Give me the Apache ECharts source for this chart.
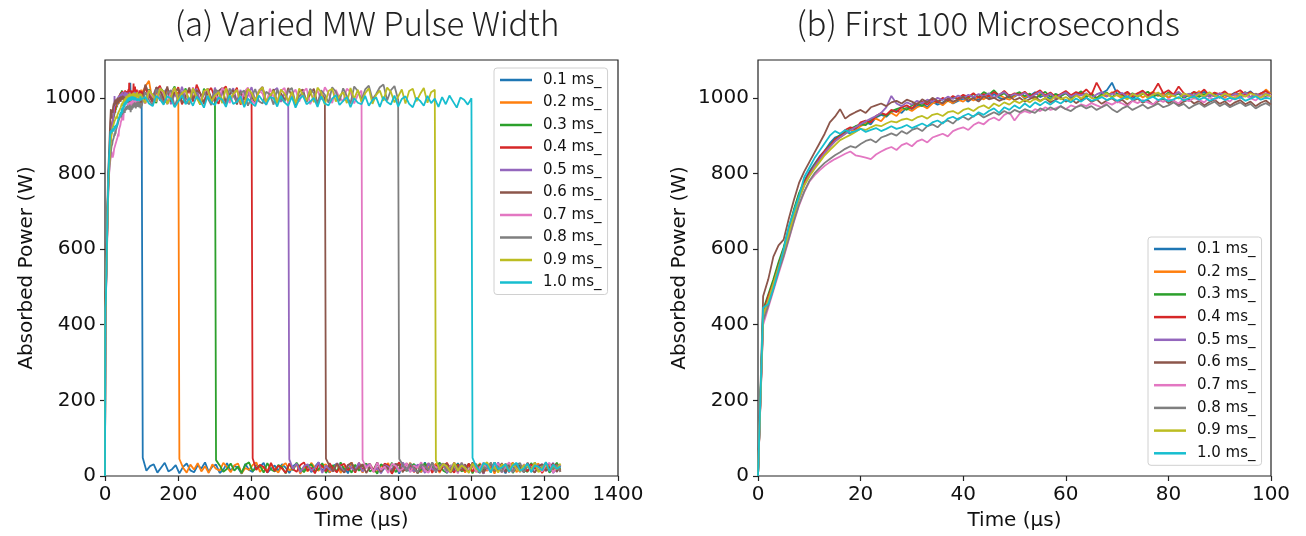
<!DOCTYPE html>
<html>
<head>
<meta charset="utf-8">
<script src="https://cdn.jsdelivr.net/npm/echarts@6/dist/echarts.min.js"></script>
<style>
html,body{margin:0;padding:0;background:#fff;}
#chart{width:1306px;height:536px;}
</style>
</head>
<body>
<div id="chart"></div>
<script>
// ---- categories ----
const seriesNames = ['0.1 ms_','0.2 ms_','0.3 ms_','0.4 ms_','0.5 ms_','0.6 ms_','0.7 ms_','0.8 ms_','0.9 ms_','1.0 ms_'];
const pulseEnd = [100,200,300,400,500,600,700,800,900,1000]; // µs
const colors = ['#1f77b4','#ff7f0e','#2ca02c','#d62728','#9467bd','#8c564b','#e377c2','#7f7f7f','#bcbd22','#17becf'];

// ---- tick labels ----
const yTicks = [0,200,400,600,800,1000];
const xTicksA = [0,200,400,600,800,1000,1200,1400];
const xTicksB = [0,20,40,60,80,100];

// ---- first 100 µs (1 µs steps, t = 0..100) ----
const rise01 = [0,425,470,515,560,600,650,700,745,780,805,
825,845,860,880,895,900,912,905,920,928,
935,930,948,955,950,962,968,960,975,970,
978,985,975,990,982,988,995,985,992,998,
990,1002,995,1005,998,1010,1000,996,1008,1003,
1012,998,1005,1015,1002,1008,995,1010,1004,1012,
1000,1008,1015,1003,1010,998,1012,1020,1040,1010,
1005,1012,998,1008,1015,1002,1010,1006,1014,1000,
1008,1015,1003,1011,998,1007,1016,1004,1010,1001,
1012,1006,1014,1000,1009,1017,1005,1011,1020,1008];
const rise02 = [0,410,455,500,545,590,640,690,735,770,795,
815,838,852,870,885,895,905,915,912,925,
932,940,945,938,955,960,952,968,972,965,
975,980,972,985,990,980,992,986,995,990,
1000,993,1003,996,1006,999,1008,1000,995,1005,
1010,1000,1007,995,1012,1003,1009,998,1006,1013,
1002,1010,996,1005,1012,1000,1008,1003,1015,1006,
999,1010,1004,1012,1001,1009,1016,1005,1011,1000,
1008,1014,1003,1010,1006,1018,1002,1009,1004,1012,
1000,1010,1005,1013,1007,1000,1011,1004,1022,1010];
const rise03 = [0,440,480,520,565,605,655,705,748,778,800,
822,840,858,875,890,902,908,918,925,930,
928,942,950,958,952,965,970,975,968,980,
985,978,990,995,988,998,992,1002,996,1005,
1000,1010,1003,1015,1008,1020,1005,1012,1000,1009,
1015,1004,1011,998,1007,1016,1002,1010,1005,1013,
1001,1009,1017,1003,1010,999,1008,1014,1002,1011,
1006,1000,1012,1004,1010,1016,1003,1009,1001,1014,
1006,1011,999,1008,1015,1002,1010,1005,1013,1000,
1009,1004,1012,1007,1015,1001,1010,1006,1003,1011];
const rise04 = [0,430,475,510,555,598,645,695,740,775,800,
820,842,860,872,890,898,915,922,918,935,
940,935,952,960,955,968,962,975,980,972,
985,990,982,995,988,1000,993,1005,998,1008,
1002,1012,1000,1010,1004,1015,1007,1018,1005,1012,
1008,1016,1003,1012,1020,1006,1014,1002,1010,1018,
1007,1015,1010,1022,1008,1040,1015,1005,1012,1020,
1008,1016,1004,1012,1019,1006,1015,1038,1012,1020,
1008,1030,1012,1005,1016,1010,1022,1006,1014,1009,
1017,1005,1013,1020,1008,1015,1004,1012,1018,1007];
const rise05 = [0,420,465,505,550,592,640,688,732,768,795,
818,836,855,870,885,896,905,915,922,930,
938,945,952,960,975,1005,985,978,988,982,
992,986,995,990,1000,994,1003,997,1006,999,
1008,1002,1010,1004,1012,1000,1009,1015,1003,1010,
1006,1013,1001,1009,1016,1004,1011,999,1008,1014,
1003,1010,1006,1012,1000,1009,1015,1004,1011,1007,
1013,1002,1010,1006,1014,1001,1009,1012,1004,1010,
1007,1015,1003,1011,1006,1013,1000,1009,1004,1012,
1008,1003,1011,1006,1014,1002,1010,1005,1012,1008];
const rise06 = [0,475,520,580,610,625,680,730,775,805,830,
855,880,905,935,950,970,945,955,962,968,
960,975,980,985,978,988,992,985,995,990,
982,996,988,1000,992,985,998,990,995,1002,
993,999,990,1004,996,1000,992,998,1005,994,
1000,990,997,1003,992,999,988,995,1001,990,
997,986,994,1000,989,996,984,993,999,988,
995,983,992,998,987,994,982,991,997,986,
993,981,990,996,985,992,980,989,995,984,
991,979,988,994,983,990,978,987,993,982];
const rise07 = [0,400,445,490,535,578,625,672,715,750,778,
795,808,820,830,838,845,852,858,848,845,
842,838,850,858,865,870,862,875,880,872,
885,890,882,895,900,905,898,912,918,922,
915,928,935,930,942,948,940,955,962,940,
958,965,960,970,965,975,968,972,978,970,
980,975,983,978,986,980,975,988,982,990,
985,978,992,986,994,988,982,995,989,997,
992,985,998,991,1000,994,988,1001,995,1003,
997,990,1004,998,1006,999,993,1005,1000,1008];
const rise08 = [0,410,450,495,540,582,628,675,718,752,780,
800,815,828,838,848,856,865,872,868,878,
886,890,882,895,900,906,900,912,905,915,
920,912,925,930,922,935,940,932,945,950,
942,952,958,948,955,962,955,965,958,968,
962,970,965,960,972,966,975,968,978,970,
965,975,980,972,978,968,975,982,970,962,
972,978,968,975,982,972,978,985,975,980,
988,978,984,972,980,986,976,983,990,978,
985,975,982,988,978,984,972,980,986,978];
const rise09 = [0,425,465,508,552,595,642,690,735,768,792,
812,830,848,862,875,888,895,902,910,918,
915,922,928,925,932,938,935,942,945,940,
948,952,945,955,958,952,962,965,958,968,
972,965,975,980,972,985,978,988,982,992,
986,995,988,998,990,1000,993,1005,996,1002,
994,1006,998,1010,1000,995,1005,1012,1000,1008,
1003,996,1010,1004,1012,1000,1008,1014,1002,1010,
1005,998,1012,1006,1000,1010,1004,1015,1006,1002,
1011,1005,998,1009,1003,1012,1006,1000,1010,1004];
const rise10 = [0,445,455,495,545,600,660,700,740,790,815,
840,860,880,900,912,905,915,908,912,918,
910,915,920,912,918,925,918,922,928,920,
926,932,925,935,940,932,945,950,942,952,
958,950,962,955,965,972,960,975,968,980,
972,985,975,988,980,990,982,992,985,995,
988,998,990,1000,992,996,1002,994,1000,992,
998,1004,995,1000,990,997,1003,994,999,991,
996,1002,993,999,1004,995,1001,992,998,1003,
994,1000,996,1002,992,998,1004,995,1000,997];

// ---- plateau (10 µs steps, t = 110 .. pulse end) ----
const plat01 = [];
const plat02 = [1030,1045,990,1012,1025,985,1020,998,1008,1015];
const plat03 = [990,1022,1005,986,1028,1016,984,1012,1030,992,1000,1025,988,1018,1006,982,1024,1010,994,1019];
const plat04 = [1025,1005,988,1020,1032,996,985,1018,1010,1028,983,1002,1022,990,1035,1012,987,1016,1026,999,
984,1021,1030,993,1008,1027,982,1014,1023,994];
const plat05 = [986,1018,1004,1026,992,1015,1024,983,1010,995,1029,1000,987,1017,1023,990,1008,1020,984,1027,
996,1016,985,1011,1025,991,1021,982,1006,1028,994,1014,1024,988,1003,1019,1026,989,1012,995];
const plat06 = [1035,1010,992,1028,1020,998,1030,990,1014,1024,986,1004,1027,994,1020,1012,983,1025,1000,991,
1018,1026,988,1008,1021,982,1016,995,1024,1006,985,1019,1029,990,1002,1023,987,1013,993,1026,
1004,981,1017,1022,989,1010,1024,984,1015,998];
const plat07 = [985,1020,1004,990,1026,1012,983,1017,1024,996,1008,1019,987,1028,1002,991,1015,1023,982,1010,
995,1025,1018,986,1006,1021,989,1016,1027,993,984,1020,1011,981,1024,1003,992,1018,1026,986,
1009,1022,990,1015,1025,983,1005,1019,995,1028,1012,986,1021,1000,991,1024,1015,985,1008,1019];
const plat08 = [1015,995,980,1022,1008,986,1012,1020,978,1003,1016,990,983,1024,1010,987,1014,1000,981,1021,
1017,992,984,1025,1006,988,1013,1019,979,1002,1023,991,985,1016,1009,982,1022,998,989,1018,
1026,986,1004,1015,990,1024,1012,983,1020,1008,987,1028,1016,991,1025,1005,985,1030,1018,995,
1022,1032,996,1010,1028,1035,993,1020,1031,995];
const plat09 = [986,1019,1008,991,1024,1016,984,1003,1027,993,1012,1020,988,1025,1000,982,1018,1023,990,1006,
1015,986,1026,994,1010,1021,987,983,1024,1013,992,1017,1028,989,1004,1019,985,1022,1011,991,
1016,984,1025,1007,993,1020,988,1027,1014,982,1018,1024,990,1005,1015,986,1026,997,1021,989,
1012,1025,984,1008,1019,992,1027,1016,988,1003,1022,985,1018,1024,991,1010,1026,987,1015,1021];
const plat10 = [1002,985,978,1005,996,982,1004,998,975,990,1006,983,1000,979,1003,992,974,1005,987,981,
1001,995,976,1007,984,989,1004,975,998,986,978,1006,993,982,1002,999,977,1005,988,979,
1003,974,996,1006,983,990,1000,976,1004,985,980,998,1007,981,992,1002,975,999,987,983,
1005,979,994,1001,976,1003,989,982,1006,977,997,1004,984,975,1000,992,979,1005,986,998,
976,1002,983,1006,990,974,1001,995,982,999];

// ---- after pulse end (10 µs steps, t = end+3 .. 1250) ----
const tail01 = [48,14,26,31,9,22,35,12,18,29,7,24,33,15,10,28,20,36,11,25,
30,8,17,34,13,27,21,6,32,16,11,29,24,35,9,19,28,14,31,22,
8,26,33,12,17,30,10,25,36,15,20,9,27,32,13,23,7,34,18,28,
11,31,24,14,35,9,21,29,16,26,6,33,19,12,30,25,10,36,17,22,
13,28,32,8,24,15,34,20,11,27,30,14,9,35,18,26,12,31,23,7,
29,16,33,21,10,27,15,36,19,12,25,32,8,22,28];
const tail02 = [45,22,9,30,17,34,12,26,8,31,19,14,35,23,10,28,33,7,21,16,
29,36,11,24,13,32,18,9,27,34,15,20,30,6,25,12,35,22,14,28,
31,10,19,33,8,26,17,36,13,23,9,29,32,16,11,27,21,34,7,24,
30,14,18,35,12,26,10,31,22,15,33,8,28,20,13,36,17,25,9,30,
24,11,34,19,14,29,6,32,21,16,27,35,10,23,18,31,12,26,33,9,
20,28,15,34,11];
const tail03 = [42,28,11,19,33,14,25,8,30,36,13,21,27,9,34,17,12,29,24,7,
32,15,35,20,10,26,31,13,18,34,8,23,28,11,36,16,22,9,30,14,
27,33,12,19,6,31,25,15,35,10,21,29,13,24,32,8,17,34,11,26,
20,36,14,9,28,23,31,12,18,33,7,25,30,15,22,10,35,19,27,13,
32,8,24,29,16,11,34,21,26,14,31,9,20,35,17];
const tail04 = [47,16,30,24,9,35,13,27,20,8,33,18,11,29,36,14,22,7,31,26,
12,34,19,10,28,32,15,23,9,35,17,25,30,11,21,13,33,28,6,24,
36,14,19,31,10,27,22,16,34,8,29,12,25,35,18,9,30,21,14,33,
11,27,24,7,32,17,36,13,20,28,10,34,23,15,29,12,31,19,26,8,
35,16,22,30,13];
const tail05 = [44,19,33,10,26,31,14,22,36,8,28,17,12,34,24,9,30,20,15,35,
11,27,32,13,21,7,29,25,16,33,10,36,19,23,12,30,26,8,34,18,
14,28,31,9,22,35,13,20,27,11,33,16,24,6,30,29,15,36,12,21,
25,10,32,18,14,34,23,9,28,31,13,19,35,11,26];
const tail06 = [46,26,12,33,18,9,29,35,14,22,31,8,24,17,36,11,27,20,13,32,
28,10,34,15,23,7,30,25,12,35,19,16,29,33,9,21,26,14,31,11,
36,18,24,8,28,32,13,20,34,10,27,15,30,22,12,35,17,9,25,31,
14,23,33,11,29];
const tail07 = [43,21,30,11,35,16,25,8,32,27,13,19,34,10,28,22,36,14,9,31,
24,17,33,12,26,29,7,35,20,15,30,11,23,34,18,13,28,32,9,25,
36,16,21,10,31,27,14,33,19,12,29,35,8,24,30];
const tail08 = [45,29,13,34,20,10,31,25,16,36,9,27,33,14,22,30,11,35,18,12,
28,32,8,24,19,36,15,26,10,33,21,13,30,34,9,27,17,31,12,25,
35,14,20,29,11];
const tail09 = [42,17,32,26,10,35,14,28,21,8,33,19,12,30,36,15,24,9,31,27,
13,34,20,11,29,25,16,36,10,22,32,14,28,18,33];
const tail10 = [48,25,12,34,29,9,36,18,22,31,11,27,35,14,20,33,10,28,24,15,
37,13,30,19,26];

const riseAll = [rise01,rise02,rise03,rise04,rise05,rise06,rise07,rise08,rise09,rise10];
const platAll = [plat01,plat02,plat03,plat04,plat05,plat06,plat07,plat08,plat09,plat10];
const tailAll = [tail01,tail02,tail03,tail04,tail05,tail06,tail07,tail08,tail09,tail10];

function fullTrace(k){
  const pts = riseAll[k].map((v,i)=>[i,v]);
  platAll[k].forEach((v,j)=>pts.push([110+10*j, v]));
  tailAll[k].forEach((v,j)=>pts.push([pulseEnd[k]+3+10*j, v]));
  return pts;
}
function firstTrace(k){ return riseAll[k].map((v,i)=>[i,v]); }

const FONT = 'DejaVu Sans';
const TXT = '#111';
const plain = v => String(v);

function xAxisCfg(gi, max, interval, ticks){
  return {
    type:'value', gridIndex:gi, min:0, max:max, interval:interval,
    name:'Time (μs)', nameLocation:'middle', nameGap:35,
    nameTextStyle:{fontFamily:FONT,fontSize:20,color:TXT},
    axisLine:{show:false},
    axisTick:{show:true,inside:false,length:5,lineStyle:{color:'#222',width:1.2},customValues:ticks},
    axisLabel:{fontFamily:FONT,fontSize:20,color:TXT,margin:9,customValues:ticks,formatter:plain},
    splitLine:{show:false}
  };
}
function yAxisCfg(gi){
  return {
    type:'value', gridIndex:gi, min:0, max:1100, interval:200,
    name:'Absorbed Power (W)', nameLocation:'middle', nameGap:68,
    nameTextStyle:{fontFamily:FONT,fontSize:20,color:TXT},
    axisLine:{show:false},
    axisTick:{show:true,inside:false,length:5,lineStyle:{color:'#222',width:1.2},customValues:yTicks},
    axisLabel:{fontFamily:FONT,fontSize:20,color:TXT,margin:9,customValues:yTicks,formatter:plain},
    splitLine:{show:false}
  };
}
function legendCfg(left, top, gap){
  return {
    data:seriesNames, orient:'vertical', left:left, top:top,
    icon:'rect', itemWidth:32, itemHeight:2.5, itemGap:gap,
    padding:[4,6,4,6],
    borderColor:'#d0d0d0', borderWidth:1, borderRadius:3,
    backgroundColor:'rgba(255,255,255,0.85)',
    textStyle:{fontFamily:FONT,fontSize:15,color:TXT,lineHeight:16,padding:[0,0,0,6]},
    selectedMode:false
  };
}

const series = [];
for(let k=0;k<10;k++){
  series.push({
    name:seriesNames[k], type:'line', xAxisIndex:0, yAxisIndex:0,
    data:fullTrace(k), showSymbol:false, symbol:'none',
    lineStyle:{width:1.8,color:colors[k]}, itemStyle:{color:colors[k]},
    animation:false, silent:true
  });
}
for(let k=0;k<10;k++){
  series.push({
    name:seriesNames[k], type:'line', xAxisIndex:1, yAxisIndex:1,
    data:firstTrace(k), showSymbol:false, symbol:'none',
    lineStyle:{width:1.8,color:colors[k]}, itemStyle:{color:colors[k]},
    animation:false, silent:true
  });
}

const chart = echarts.init(document.getElementById('chart'), null, {renderer:'canvas'});
chart.setOption({
  backgroundColor:'#fff',
  animation:false,
  title:[
    {text:'(a) Varied MW Pulse Width', left:362, top:2, textAlign:'center',
     textStyle:{fontFamily:'Noto Sans CJK JP',fontWeight:300,fontSize:33,color:'#222'}},
    {text:'(b) First 100 Microseconds', left:983, top:2, textAlign:'center',
     textStyle:{fontFamily:'Noto Sans CJK JP',fontWeight:300,fontSize:33,color:'#222'}}
  ],
  grid:[
    {left:105, top:60, width:513, height:417, show:true, borderColor:'#222', borderWidth:1.2, backgroundColor:'transparent'},
    {left:758, top:60, width:513, height:417, show:true, borderColor:'#222', borderWidth:1.2, backgroundColor:'transparent'}
  ],
  xAxis:[xAxisCfg(0,1400,200,xTicksA), xAxisCfg(1,100,20,xTicksB)],
  yAxis:[yAxisCfg(0), yAxisCfg(1)],
  legend:[legendCfg(494,68,6.5), legendCfg(1148,237,6.7)],
  series:series
});
</script>
</body>
</html>
